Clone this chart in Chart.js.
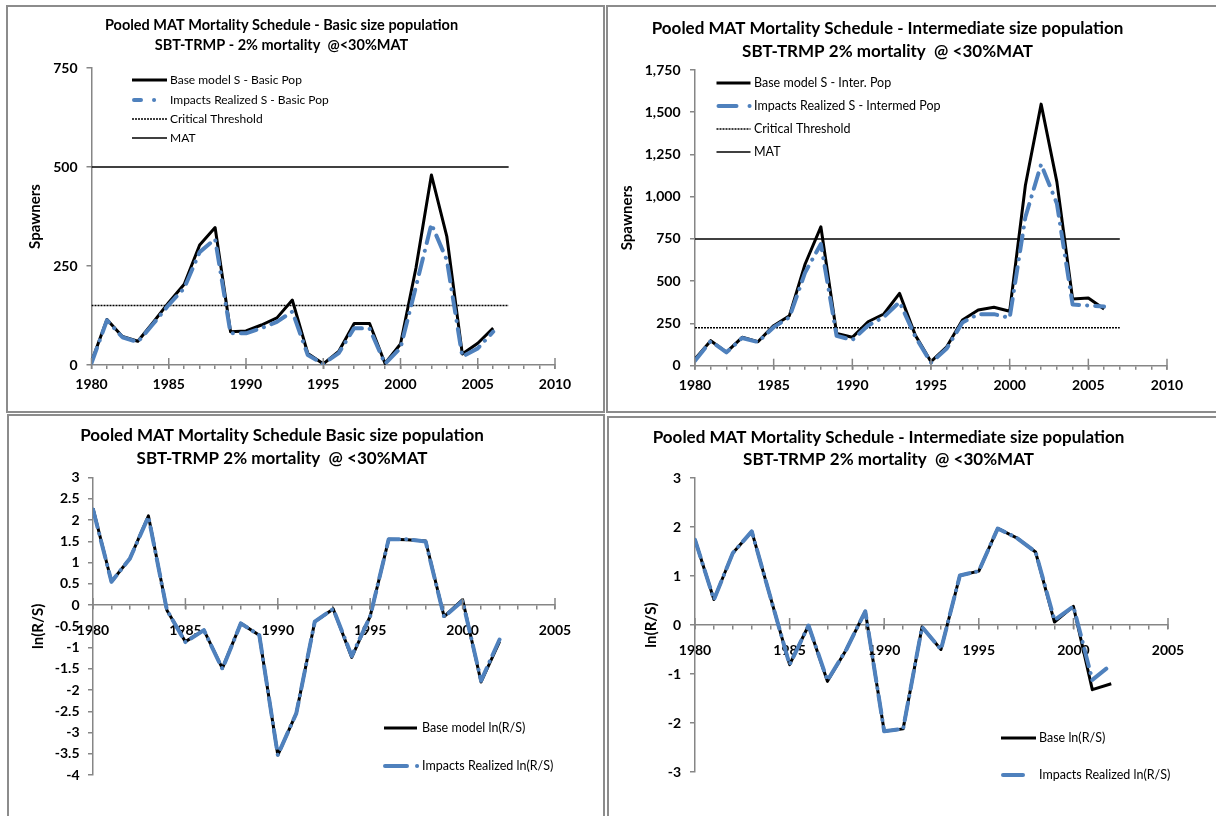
<!DOCTYPE html>
<html>
<head>
<meta charset="utf-8">
<title>Pooled MAT Mortality Schedule</title>
<script src="https://cdn.jsdelivr.net/npm/chart.js@4.4.1/dist/chart.umd.min.js"></script>
<style>
  html, body { margin: 0; padding: 0; background: #ffffff; width: 1216px; height: 816px; overflow: hidden; }
  .panel { position: absolute; border: 2px solid #8c8c8c; background: #ffffff; }
  .panel canvas { display: block; }
</style>
</head>
<body>
<div class="panel" style="left:6px;top:5px;width:595px;height:404px"><canvas id="c1" width="595" height="404"></canvas></div>
<div class="panel" style="left:606px;top:5px;width:610px;height:404px"><canvas id="c2" width="610" height="404"></canvas></div>
<div class="panel" style="left:7px;top:414px;width:594px;height:402px"><canvas id="c3" width="594" height="402"></canvas></div>
<div class="panel" style="left:607px;top:416px;width:610px;height:400px"><canvas id="c4" width="610" height="400"></canvas></div>
<script>
// ---- data -------------------------------------------------------------
const spawnYears = [1980, 1981, 1982, 1983, 1984, 1985, 1986, 1987, 1988, 1989,
                    1990, 1991, 1992, 1993, 1994, 1995, 1996, 1997, 1998, 1999,
                    2000, 2001, 2002, 2003, 2004, 2005, 2006];

// Basic size population: spawners
const basicBaseS   = [8, 115, 72, 60, 108, 158, 204, 303, 347, 84, 86, 101, 119, 164, 29, 3, 34, 105, 105, 4, 53, 245, 480, 324, 28, 55, 93];
const basicImpactS = [5, 113, 70, 58, 104, 152, 194, 285, 318, 80, 80, 93, 109, 135, 25, 3, 30, 93, 92, 3, 43, 198, 356, 265, 21, 42, 84];
const basicCritical = 150;
const basicMAT = 500;

// Intermediate size population: spawners
const interBaseS   = [39, 148, 80, 168, 142, 237, 296, 602, 822, 191, 168, 260, 306, 428, 181, 24, 112, 270, 330, 346, 322, 1068, 1548, 1088, 395, 401, 336];
const interImpactS = [30, 146, 79, 164, 140, 228, 286, 552, 720, 177, 152, 238, 288, 377, 172, 18, 102, 256, 305, 305, 283, 880, 1192, 960, 362, 356, 350];
const interCritical = 225;
const interMAT = 750;

// reference levels run across these years
const refLineYears = [1980, 2007];

const lnYears = [1980, 1981, 1982, 1983, 1984, 1985, 1986, 1987, 1988, 1989,
                 1990, 1991, 1992, 1993, 1994, 1995, 1996, 1997, 1998, 1999,
                 2000, 2001, 2002];

// ln(recruits / spawners)
const basicBaseLn   = [2.28, 0.55, 1.10, 2.10, -0.12, -0.86, -0.59, -1.49, -0.43, -0.71, -3.53, -2.55, -0.39, -0.09, -1.23, -0.26, 1.55, 1.54, 1.51, -0.27, 0.13, -1.81, -0.86];
const basicImpactLn = [2.25, 0.55, 1.10, 2.08, -0.12, -0.87, -0.59, -1.50, -0.43, -0.71, -3.53, -2.55, -0.39, -0.09, -1.20, -0.26, 1.55, 1.55, 1.50, -0.28, 0.10, -1.78, -0.81];
const interBaseLn   = [1.74, 0.52, 1.47, 1.91, 0.55, -0.81, -0.01, -1.15, -0.50, 0.28, -2.17, -2.12, -0.04, -0.50, 1.01, 1.10, 1.97, 1.78, 1.49, 0.06, 0.38, -1.32, -1.20];
const interImpactLn = [1.74, 0.52, 1.47, 1.91, 0.55, -0.81, -0.01, -1.13, -0.50, 0.28, -2.17, -2.12, -0.04, -0.50, 1.01, 1.10, 1.97, 1.78, 1.49, 0.10, 0.38, -1.12, -0.81];

// ---- styling ----------------------------------------------------------
const FONT = 'Lato, "Liberation Sans", sans-serif';
const INK = '#000000';
const AXIS_GREY = '#868686';
const BLUE = '#4f81bd';

const pairs = (xs, ys) => xs.map((x, i) => ({ x: x, y: ys[i] }));
const level = v => refLineYears.map(x => ({ x: x, y: v }));

// tall year ticks every five years, crossing the x axis line
const majorTicks = {
  id: 'majorTicks',
  afterDraw(chart, args, opts) {
    const xs = chart.scales.x, ys = chart.scales.y;
    const y0 = ys.getPixelForValue(0);
    const ctx = chart.ctx;
    ctx.save();
    ctx.strokeStyle = AXIS_GREY;
    ctx.lineWidth = 1.5;
    for (let v = xs.min; v <= xs.max; v += 5) {
      const px = xs.getPixelForValue(v);
      ctx.beginPath();
      ctx.moveTo(px, y0 - opts.up);
      ctx.lineTo(px, y0 + opts.down);
      ctx.stroke();
    }
    ctx.restore();
  }
};

// key drawn inside the plot area
const insetKey = {
  id: 'insetKey',
  afterDraw(chart, args, opts) {
    const ctx = chart.ctx;
    opts.items.forEach((it, i) => {
      const ds = chart.data.datasets[it.dataset];
      const y = opts.rows[i];
      ctx.save();
      ctx.strokeStyle = ds.borderColor;
      ctx.lineWidth = ds.borderWidth;
      ctx.lineCap = ds.borderCapStyle || 'butt';
      ctx.setLineDash(it.dash || ds.borderDash || []);
      const x0 = opts.x + (it.start || 0);
      ctx.beginPath();
      ctx.moveTo(x0, y);
      ctx.lineTo(x0 + (it.len || opts.len), y);
      ctx.stroke();
      ctx.setLineDash([]);
      ctx.fillStyle = INK;
      ctx.font = opts.fontSize + 'px ' + FONT;
      ctx.textBaseline = 'middle';
      ctx.textAlign = 'left';
      ctx.fillText(ds.label, opts.textX, y);
      ctx.restore();
    });
  }
};

function spawnerDatasets(labels, base, impact, critical, mat) {
  return [
    { label: labels[0], data: pairs(spawnYears, base), borderColor: INK, borderWidth: 3,
      order: 1, borderJoinStyle: 'round' },
    { label: labels[1], data: pairs(spawnYears, impact), borderColor: BLUE, borderWidth: 4,
      borderDash: [16, 8, 0.1, 8], borderCapStyle: 'round', borderJoinStyle: 'round', order: 0 },
    { label: 'Critical Threshold', data: level(critical), borderColor: INK, borderWidth: 1.5,
      borderDash: [2, 1], order: 2 },
    { label: 'MAT', data: level(mat), borderColor: INK, borderWidth: 1.5, order: 2 }
  ];
}

function lnDatasets(labels, base, impact) {
  return [
    { label: labels[0], data: pairs(lnYears, base), borderColor: INK, borderWidth: 3,
      order: 1, borderJoinStyle: 'round' },
    { label: labels[1], data: pairs(lnYears, impact), borderColor: BLUE, borderWidth: 4,
      borderDash: [18, 7, 0.1, 7], borderCapStyle: 'round', borderJoinStyle: 'round', order: 0 }
  ];
}

function makeChart(id, cfg) {
  const tickFont = { family: FONT, size: 14, weight: 'bold' };
  const yearLabel = v => (v % 5 === 0 ? String(v) : '');
  const plainNumber = v => String(Math.round(v * 10) / 10);
  const xScale = {
    type: 'linear', min: cfg.xMin, max: cfg.xMax,
    position: cfg.xAtZero ? { y: 0 } : 'bottom',
    border: { color: AXIS_GREY, width: 1.5 },
    grid: { drawOnChartArea: false, drawTicks: true, tickLength: 4, color: AXIS_GREY, lineWidth: 1.5 },
    ticks: { stepSize: 1, autoSkip: false, maxRotation: 0, minRotation: 0, color: INK,
             font: tickFont, padding: cfg.xPad, callback: yearLabel }
  };
  if (!cfg.xAtZero) xScale.afterFit = s => { s.height = cfg.xHeight; };
  const yTicks = { stepSize: cfg.yStep, color: INK, font: tickFont, padding: cfg.yPad };
  if (cfg.plainY) yTicks.callback = plainNumber;
  const yScale = {
    type: 'linear', min: cfg.yMin, max: cfg.yMax,
    border: { color: AXIS_GREY, width: 1.5 },
    grid: { drawOnChartArea: false, drawTicks: true, tickLength: 5, color: AXIS_GREY, lineWidth: 1.5 },
    ticks: yTicks,
    title: { display: true, text: cfg.yTitle, color: INK,
             font: { family: FONT, size: 15, weight: 'bold' }, padding: { top: cfg.yTitleOff, bottom: 0 } },
    afterFit: s => { s.width = cfg.yWidth; }
  };
  return new Chart(document.getElementById(id), {
    type: 'line',
    data: { datasets: cfg.datasets },
    options: {
      responsive: false, animation: false, devicePixelRatio: 1,
      elements: { point: { radius: 0, hoverRadius: 0 }, line: { tension: 0, fill: false } },
      layout: { padding: { left: 0, top: 0, right: cfg.padRight, bottom: cfg.padBottom } },
      scales: { x: xScale, y: yScale },
      plugins: {
        legend: { display: false },
        tooltip: { enabled: false },
        title: { display: true, text: cfg.title, color: INK,
                 font: { family: FONT, size: cfg.titleSize, weight: 'bold', lineHeight: cfg.titleLH / cfg.titleSize },
                 padding: { top: cfg.titleTop, bottom: cfg.titleBottom } },
        majorTicks: { up: 7, down: 4 },
        insetKey: cfg.key
      }
    },
    plugins: [majorTicks, insetKey]
  });
}

// ---- charts -----------------------------------------------------------
makeChart('c1', {
  title: ['Pooled MAT Mortality Schedule - Basic size population', 'SBT-TRMP - 2% mortality  @<30%MAT'],
  titleSize: 14.5, titleLH: 20, titleTop: 8, titleBottom: 13,
  datasets: spawnerDatasets(['Base model S - Basic Pop', 'Impacts Realized S - Basic Pop'],
                            basicBaseS, basicImpactS, basicCritical, basicMAT),
  xMin: 1980, xMax: 2010, xPad: 7, xHeight: 46,
  yMin: 0, yMax: 750, yStep: 250, yPad: 9, yWidth: 83.5, yTitle: 'Spawners', yTitleOff: 18,
  padRight: 48, padBottom: 0,
  key: { x: 124, len: 35, textX: 162, fontSize: 12, rows: [73, 93, 112, 131],
         items: [{ dataset: 0 }, { dataset: 1, start: 2, len: 22, dash: [7, 13, 0.1, 40] },
                 { dataset: 2 }, { dataset: 3 }] }
});

makeChart('c2', {
  title: ['Pooled MAT Mortality Schedule - Intermediate size population', 'SBT-TRMP 2% mortality  @ <30%MAT'],
  titleSize: 17, titleLH: 23, titleTop: 10.5, titleBottom: 6.5,
  datasets: spawnerDatasets(['Base model S - Inter. Pop', 'Impacts Realized S - Intermed Pop'],
                            interBaseS, interImpactS, interCritical, interMAT),
  xMin: 1980, xMax: 2010, xPad: 7, xHeight: 45.3,
  yMin: 0, yMax: 1750, yStep: 250, yPad: 9.5, yWidth: 87, yTitle: 'Spawners', yTitleOff: 10.5,
  padRight: 51, padBottom: 0,
  key: { x: 108.5, len: 34, textX: 146, fontSize: 12.5, rows: [76, 99, 122, 145],
         items: [{ dataset: 0 }, { dataset: 1, start: 2, len: 32, dash: [18, 13, 0.1, 40] },
                 { dataset: 2 }, { dataset: 3 }] }
});

makeChart('c3', {
  title: ['Pooled MAT Mortality Schedule Basic size population', 'SBT-TRMP 2% mortality  @ <30%MAT'],
  titleSize: 17, titleLH: 23, titleTop: 8.5, titleBottom: 7.2,
  datasets: lnDatasets(['Base model ln(R/S)', 'Impacts Realized ln(R/S)'], basicBaseLn, basicImpactLn),
  xMin: 1980, xMax: 2005, xPad: 13, xAtZero: true,
  yMin: -4, yMax: 3, yStep: 0.5, yPad: 8.5, yWidth: 84, yTitle: 'ln(R/S)', yTitleOff: 20.5, plainY: true,
  padRight: 48, padBottom: 43,
  key: { x: 375, len: 33, textX: 413, fontSize: 12.5, rows: [312, 350],
         items: [{ dataset: 0 }, { dataset: 1, start: 1, len: 34, dash: [22, 10, 0.1, 50] }] }
});

makeChart('c4', {
  title: ['Pooled MAT Mortality Schedule - Intermediate size population', 'SBT-TRMP 2% mortality  @ <30%MAT'],
  titleSize: 17, titleLH: 22, titleTop: 9, titleBottom: 7,
  datasets: lnDatasets(['Base ln(R/S)', 'Impacts Realized ln(R/S)'], interBaseLn, interImpactLn),
  xMin: 1980, xMax: 2005, xPad: 13, xAtZero: true,
  yMin: -3, yMax: 3, yStep: 1, yPad: 9, yWidth: 86, yTitle: 'ln(R/S)', yTitleOff: 33, plainY: true,
  padRight: 51, padBottom: 46,
  key: { x: 392, len: 35, textX: 430, fontSize: 12.5, rows: [320, 357],
         items: [{ dataset: 0 }, { dataset: 1, start: 2, len: 22, dash: [20, 40] }] }
});
</script>
</body>
</html>
